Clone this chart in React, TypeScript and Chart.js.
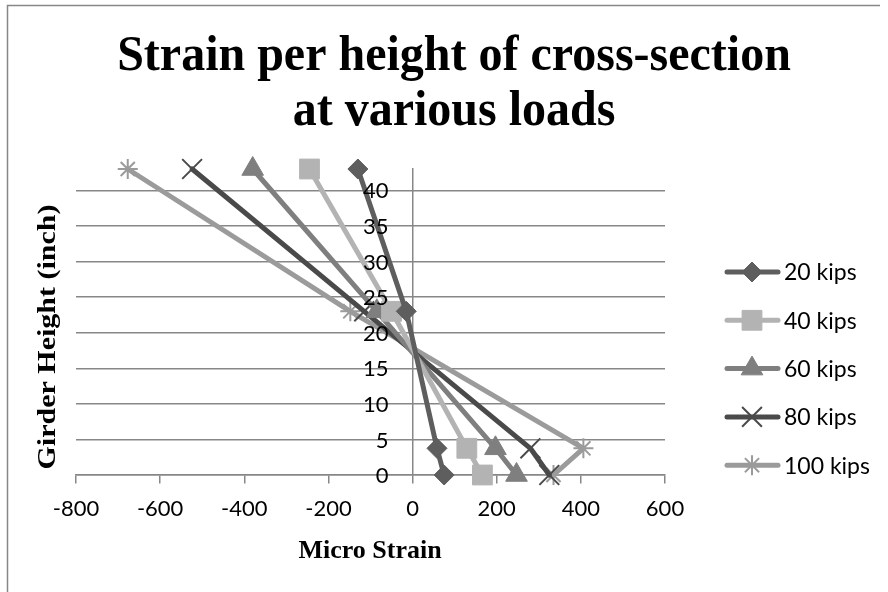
import React, { useEffect, useRef } from 'react';
import { Chart, registerables } from 'chart.js';
import { drawPoint } from 'chart.js/helpers';

Chart.register(...registerables);

// Gauge heights along the girder (inch)
const heights = [0, 3.75, 23, 43];

// Micro strain readings at each gauge height, per load step
const strain20 = [75, 58, -15, -130];
const strain40 = [166, 129, -50, -245];
const strain60 = [247, 197, -85, -380];
const strain80 = [325, 280, -115, -524];
const strain100 = [335, 406, -148, -677];

const loadLabels = ['20 kips', '40 kips', '60 kips', '80 kips', '100 kips'];
const strainSeries = [strain20, strain40, strain60, strain80, strain100];

// Axis ticks
const yTickValues = [0, 5, 10, 15, 20, 25, 30, 35, 40];

const titleLines = ['Strain per height of cross-section', 'at various loads'];
const xTitle = 'Micro Strain';
const yTitle = 'Girder Height (inch)';

// Series styling
const seriesColors = ['#5e5e5e', '#b3b3b3', '#7f7f7f', '#4a4a4a', '#9b9b9b'];
const seriesMarkers = ['rectRot', 'rect', 'triangle', 'crossRot', 'star'];
const markerRadii = [10, 14, 12.5, 14, 10];
const markerBorders = [1, 1, 1, 2, 2];

const SERIF = '"Liberation Serif", "Times New Roman", serif';
const SANS = 'Lato, "Open Sans", sans-serif';

const decorations = {
  id: 'decorations',
  beforeDraw(chart: any) {
    const { ctx, width, height } = chart;
    ctx.save();
    ctx.fillStyle = '#ffffff';
    ctx.fillRect(0, 0, width, height);
    // chart frame
    ctx.strokeStyle = '#878787';
    ctx.lineWidth = 1.5;
    ctx.beginPath();
    ctx.moveTo(7.5, height);
    ctx.lineTo(7.5, 5.5);
    ctx.lineTo(width - 8, 5.5);
    ctx.stroke();
    ctx.restore();
  },
  afterDraw(chart: any) {
    const { ctx } = chart;
    const xScale = chart.scales.x;
    const yScale = chart.scales.y;
    ctx.save();
    ctx.fillStyle = '#000000';

    // y tick labels sit just left of the vertical axis at x = 0
    const axisX = xScale.getPixelForValue(0);
    ctx.font = `22px ${SANS}`;
    ctx.textAlign = 'right';
    ctx.textBaseline = 'middle';
    yTickValues.forEach((v) => {
      ctx.fillText(String(v), axisX - 24, yScale.getPixelForValue(v) + 1);
    });

    ctx.textAlign = 'center';
    ctx.textBaseline = 'alphabetic';

    // main title (slightly tall lettering)
    ctx.font = `bold 48px ${SERIF}`;
    [70, 125].forEach((baseline, i) => {
      ctx.save();
      ctx.translate(454, baseline);
      ctx.scale(1, 1.06);
      ctx.fillText(titleLines[i], 0, 0);
      ctx.restore();
    });

    // x axis title
    ctx.font = `bold 26px ${SERIF}`;
    ctx.fillText(xTitle, 370, 558);

    // y axis title
    ctx.save();
    ctx.translate(55, 337);
    ctx.rotate(-Math.PI / 2);
    ctx.font = `bold 26px ${SERIF}`;
    const w = ctx.measureText(yTitle).width;
    ctx.scale(265 / w, 1);
    ctx.fillText(yTitle, 0, 0);
    ctx.restore();

    // legend
    chart.data.datasets.forEach((ds: any, i: number) => {
      const y = 272 + i * 48.3;
      ctx.strokeStyle = ds.borderColor;
      ctx.lineWidth = 5;
      ctx.lineCap = 'round';
      ctx.beginPath();
      ctx.moveTo(727, y);
      ctx.lineTo(778, y);
      ctx.stroke();
      ctx.fillStyle = ds.pointBackgroundColor;
      ctx.strokeStyle = ds.pointBorderColor;
      ctx.lineWidth = ds.pointBorderWidth;
      ctx.lineCap = 'butt';
      drawPoint(
        ctx,
        { pointStyle: ds.pointStyle, radius: ds.pointRadius, borderWidth: ds.pointBorderWidth, rotation: 0 },
        752,
        y
      );
      ctx.fillStyle = '#000000';
      ctx.font = `23px ${SANS}`;
      ctx.textAlign = 'left';
      ctx.textBaseline = 'middle';
      ctx.fillText(ds.label, 784, y + 1);
    });
    ctx.restore();
  },
};

export default function App() {
  const canvasRef = useRef<HTMLCanvasElement | null>(null);

  useEffect(() => {
    document.body.style.margin = '0';
    const canvas = canvasRef.current;
    if (!canvas) return;

    const datasets = strainSeries.map((values, i) => ({
      label: loadLabels[i],
      data: values.map((x, j) => ({ x, y: heights[j] })),
      borderColor: seriesColors[i],
      backgroundColor: seriesColors[i],
      pointBackgroundColor: seriesColors[i],
      pointBorderColor: seriesColors[i],
      borderWidth: 5,
      borderCapStyle: 'round',
      borderJoinStyle: 'round',
      pointStyle: seriesMarkers[i],
      pointRadius: markerRadii[i],
      pointBorderWidth: markerBorders[i],
      tension: 0,
      clip: false,
    }));

    const chart = new Chart(canvas, {
      type: 'line',
      data: { datasets } as any,
      plugins: [decorations],
      options: {
        animation: false,
        responsive: false,
        layout: { padding: { left: 76, right: 223, top: 169, bottom: 117 } },
        plugins: {
          legend: { display: false },
          title: { display: false },
          tooltip: { enabled: false },
        },
        scales: {
          x: {
            type: 'linear',
            position: { y: 0 } as any,
            min: -800,
            max: 600,
            ticks: {
              stepSize: 200,
              color: '#000000',
              font: { family: SANS, size: 22 },
              padding: 13,
            },
            grid: {
              drawOnChartArea: false,
              drawTicks: true,
              tickLength: 8,
              color: '#878787',
              lineWidth: 1.5,
            },
            border: { display: true, color: '#878787', width: 1.5 },
          },
          y: {
            type: 'linear',
            position: { x: 0 } as any,
            min: 0,
            max: 43,
            afterBuildTicks: (scale: any) => {
              scale.ticks = yTickValues.map((value) => ({ value }));
            },
            ticks: { display: false },
            grid: {
              drawOnChartArea: true,
              drawTicks: false,
              color: '#878787',
              lineWidth: 1.5,
            },
            border: { display: true, color: '#878787', width: 1.5 },
          },
        },
      } as any,
    });

    return () => chart.destroy();
  }, []);

  return <canvas ref={canvasRef} width={888} height={592} style={{ display: 'block' }} />;
}
